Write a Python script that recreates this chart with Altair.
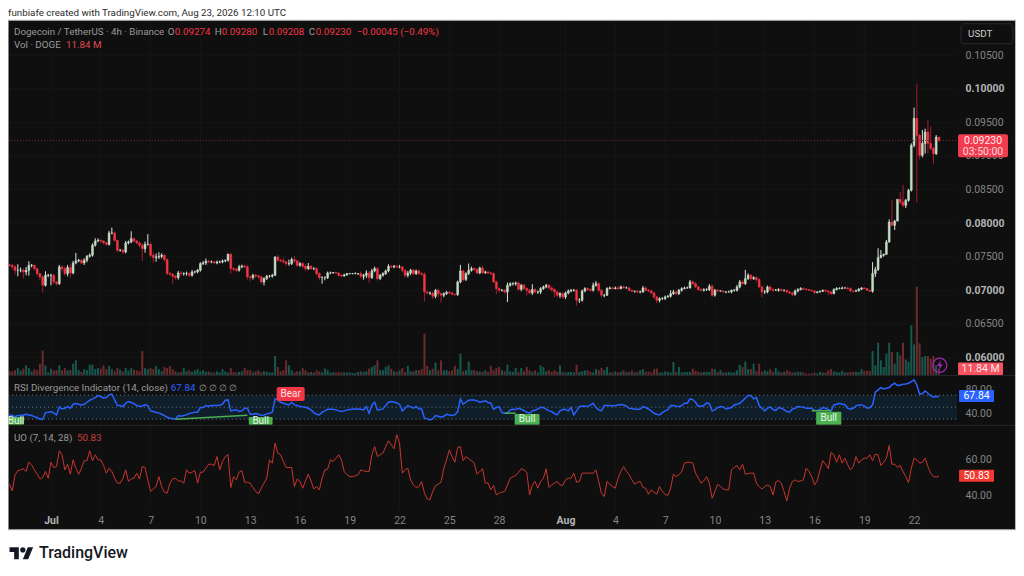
import altair as alt
import pandas as pd

# ---- values (price in 1e-4 USDT) ----
closes_e4 = [
737.2,734.8,729.8,729.8,729.8,727.3,729.8,737.2,737.2,732.3,
724.8,719.9,707.5,722.4,722.4,722.4,712.4,709.9,734.8,732.3,
724.8,733.8,725.8,740.7,743.7,744.7,740.7,744.7,750.6,752.1,
767,773.4,774.4,773.4,770.5,768.5,785.4,785.4,774.4,759.6,
759.6,757.1,770.5,772,776.9,773.4,770.5,767,762,768.5,
768.5,752.1,748.6,749.6,750.6,752.1,745.7,724.8,723.8,720.9,
718.9,725.8,724.8,724.8,724.8,722.4,727.3,727.3,729.8,739.7,
740.7,743.2,742.2,742.2,740.7,742.2,742.2,743.7,744.7,753.6,
732.3,731.3,729.8,734.8,736.2,734.8,719.9,718.9,722.4,721.4,
719.9,712.4,717.4,720.9,720.9,722.4,749.6,744.7,743.7,742.2,
739.7,739.7,745.7,743.7,737.2,
739.7,735.7,732.2,735.7,732.2,732.2,724.8,718.8,718.8,718.8,
725.8,725.8,726.3,725.8,722.3,721.3,722.8,724.8,724.8,724.8,
724.8,724.8,720.8,722.3,725.8,718.8,728.8,732.2,717.4,722.3,
724.8,728.8,735.7,734.7,735.7,734.7,734.7,729.8,722.3,725.8,
729.8,724.8,728.8,724.8,723.8,697.5,696,696,691.1,700,
695,692.6,695,697,696,694,693.6,712.4,728.8,715.9,
724.8,729.8,732.2,730.8,725.8,733.2,726.3,727.3,725.8,724.8,
712.4,702.5,700,700,697.5,707.4,709.9,709.9,710.9,701.5,
707.4,702.5,700,696,701,697.5,697.5,702.5,705,707.4,
703.5,701,697.5,692.6,695,690.1,696,699,700,700,
685.1,685.1,699,702.5,701,700,707.4,709.9,700,
692.6,692.6,702.5,703.5,702.5,703.5,702.5,705,703.5,703.5,
700,698.5,698.5,697.5,697.5,703.5,700,699,696,690.1,
685.1,687.6,687.6,690.1,691.1,695,697.5,695,700,702.5,
703.5,703.5,712.4,709.9,705,701,700,701,701,706,
692.6,700,699,699,697.5,697.5,697.5,700,700,705,
712.4,709.9,717.4,722.3,717.4,718.8,715.9,705,697.5,697.5,
705,701,700,700,701,700,700,697.5,696,694,
699,701,702.5,701.5,701,700,699,696.5,697.5,698.5,
700,699,697.5,695,701,702.5,702.5,703.5,703.5,702.5,
699,698.5,699,701.5,703.5,702.5,700,698.5,
724.8,730.8,748.6,752,753.6,771.9,801.6,796.7,803,835.4,
831,826.5,834,849,915.8,956,930.6,900.9,918.6,935.6,
918.9,911.3,903.4,928,923,
]
upper_wick_e4 = [
1,2,3,9,4,3,5,6,2,1, 1,1,2,6,2,2,2,1,3,2, 3,4,5,3,12,2,2,3,2,3, 3,4,3,2,1,2,3,8,2,1,
2,2,3,2,11,2,2,2,3,4, 15,3,4,5,6,3,2,2,3,2, 2,3,3,2,3,2,3,2,2,2, 3,4,2,2,2,2,2,2,1,1,
2,2,2,3,2,2,3,2,2,2, 2,2,2,2,2,2,1,3,2,5, 2,6,3,5,2,
2,2,3,5,2,2,2,2,2,2, 2,2,1,1,1,2,2,1,1,1, 2,1,3,2,4,3,3,3,2,2, 2,2,3,2,2,2,3,2,2,3,
2,2,2,2,2,3,2,2,2,2, 2,2,2,2,2,2,1,2,9,2, 2,10,3,2,2,2,3,2,2,2, 2,2,2,2,2,4,2,2,2,2,
2,2,2,2,8,2,2,2,2,2, 2,2,2,2,2,2,2,2,2,2, 2,3,2,2,2,2,4,4,2,
2,2,2,2,2,2,3,2,2,2, 2,1,1,2,2,3,2,2,2,2, 2,2,2,2,2,5,3,2,2,2, 2,2,3,2,2,2,2,2,2,3,
3,2,2,1,1,1,2,1,2,3, 3,2,13,3,2,2,2,2,2,3, 2,2,2,2,2,2,1,1,2,2, 2,2,2,2,2,1,1,1,1,1,
1,1,1,1,2,2,2,2,1,2, 2,1,2,2,1,1,1,1,
17,4,14,8,1,3,4,33,2,0, 11,26,2,2,3,16,52,2,20,5, 18,25,2,3,0,
]
lower_wick_e4 = [
2,4,6,9,3,10,5,8,3,3, 3,5,11,2,3,15,3,3,2,4, 3,4,7,2,2,2,2,3,3,2, 2,2,2,3,2,2,2,2,2,3,
2,3,2,2,2,2,2,3,18,6, 2,3,7,6,3,3,3,2,2,11, 3,3,3,3,3,3,2,2,2,2, 2,3,2,2,2,2,2,2,2,2,
8,3,3,2,2,2,4,5,3,3, 3,3,5,2,2,2,1,2,2,2, 3,3,2,3,2,
2,3,4,2,2,2,3,4,9,4, 2,2,1,1,2,2,1,1,1,1, 1,2,3,5,4,8,2,2,3,2, 2,2,2,2,2,2,2,3,4,3,
3,2,2,2,2,14,2,3,4,3, 5,11,3,2,2,2,2,2,2,3, 2,2,2,2,2,2,2,2,2,2, 2,8,3,2,3,15,2,3,3,2,
3,2,8,2,3,2,3,3,2,2, 3,3,8,3,4,3,3,2,2,2, 8,4,2,2,2,2,2,2,3,
3,3,1,1,1,1,2,1,1,1, 2,1,2,2,2,1,1,2,2,3, 4,3,2,2,1,2,2,2,2,2, 1,1,1,2,2,2,2,2,2,2,
3,2,2,1,1,2,1,2,2,2, 2,2,2,2,3,2,3,2,8,3, 2,2,2,1,2,2,2,2,2,3, 2,2,1,1,1,1,1,2,1,1,
1,2,5,2,1,1,1,1,1,2, 2,2,1,1,1,1,1,1,
2,5,2,1,2,1,1,1,7,0, 3,3,4,2,2,3,100,6,3,15, 15,3,15,2,2,
]
volume_m = [
7,7,9,13,8.5,12,18,13,7,11, 9,21,45,18,5,12,9,9,18,9, 13,9,9,21,27,9,6,11,9,19,
19,11,13,12,18,11,17,11,7,13, 10,7,13,8.5,13,10,8.5,7,44,13, 11,13,11,17,11,7,15,13,17,11,
7,5,6,13,7,9,6,9,11,7, 9,6,7,5,5,7,5,11,7,5, 13,6,5,6,7,13,9,9,5,7,
9,5,7,6,5,5,35,15,7,9, 27,18,9,5,7,
7,13,9,5,6,5,9,7,5,12, 9,5,5,5,6,5,5,5,5,4, 4,6,7,6,7,12,15,18,27,9,
9,15,18,12,7,6,9,13,6,17, 7,7,9,9,11,76,17,9,12,23, 9,27,9,9,7,9,17,11,39,7,
9,25,9,9,7,7,6,9,6,17, 9,13,15,9,7,19,7,6,13,6, 13,7,15,9,6,9,5,18,15,7,
9,6,9,6,18,6,5,6,6,5, 19,6,7,9,9,6,5,11,9,
13,9,15,5,5,7,5,6,9,6, 6,9,5,6,9,11,6,7,5,11, 12,5,5,7,6,5,24,6,15,5,
6,6,6,12,8,6,5,6,6,6, 12,11,6,9,5,5,6,5,5,9, 19,15,25,11,11,21,7,21,6,9,
7,11,6,13,7,5,6,9,7,5, 5,6,6,5,3,3,3,5,3,6, 5,5,9,11,7,6,5,8,5,5, 6,6,6,6,11,8,8,8,
44,18,59,27,15,39,59,42,21,42, 36,59,29,25,91,56,161,58,33,35, 35,30,35,18,11.84,
]
rsi = [
37.1,36,34.3,36,36,37.1,38.2,37.1,36,34.3, 32.7,29.9,29.9,41,41.6,42.7,39.9,37.1,50.5,47.1,
48.2,51,48.2,54.9,56,54.9,53.8,54.9,58.2,61.6, 63.8,66,69.4,67.7,64.9,66,70.5,71.6,62.1,52.7,
52.7,51,56.6,59.4,57.7,56,52.7,51.6,52.1,53.8, 52.7,43.8,42.7,41,40.5,38.2,36,33.2,31.6,31,
29.9,36,34.9,36,37.1,39.4,40.5,41.6,41.6,49.4, 49.4,52.7,51.6,52.7,52.7,52.7,53.2,54.9,61.6,62.1,
43.8,44.9,45.5,42.7,43.8,48.2,48.2,38.2,38.2,39.4, 38.2,36,37.1,38.8,39.9,41.6,63.8,62.1,58.2,56.6,
54.9,53.8,58.2,53.8,52.7,51,50.5,49.9,48.2,45.5, 41,38.2,37.1,41.6,43.8,46.6,46.6,46.6,45.5,43.8,
42.7,43.8,45.5,46,46.6,47.1,47.1,46.6,45.5,51, 39.9,53.8,58.2,45.5,46,47.1,52.7,58.2,59.4,58.8,
57.1,54.9,43.8,48.2,52.7,50.5,48.2,51,47.1,47.1, 31.6,30.5,28.8,30.5,36,34.9,33.2,34.9,38.2,37.1,
36,37.1,42.7,63.8,54.9,58.2,61.6,62.1,62.1,60.5, 58.2,59.4,60.5,57.7,56.6,46.6,49.4,51,41,39.9,
39.9,45.5,46.6,46,48.2,46.6,44.4,41.6,39.9,43.8, 44.9,47.1,49.4,49.4,46.6,43.8,42.7,39.4,37.1,43.8,
46,46.6,43.8,49.4,37.1,43.8,51,52.1,51.6,51, 53.8,56.6,49.4,45.5,43.8,52.7,52.7,52.7,52.1,52.7,
53.8,54.4,53.8,51.6,48.2,47.7,46.6,46.6,46.6,51, 49.4,46.6,43.8,39.9,38.2,37.1,41,43.8,46,52.7,
52.7,51.6,51,
52.7,56.6,56.6,63.8,62.7,58.2,51.6,51.6,52.7,57.1, 56,43.8,45.5,49.4,51,50.5,47.1,48.2,49.4,53.8,
54.9,56.6,60.5,64.9,69.4,69.4,63.8,66,52.7,48.2, 43.8,48.2,50.5,46,44.4,49.4,48.2,46,42.7,41.6,
47.1,48.2,51,50.5,49.9,48.2,48.2,48.2,44.4,44.4, 46,49.4,48.2,46,43.8,53.8,54.9,56.6,54.9,54.4,
48.2,46.6,48.2,52.1,53.8,53.8,52.1,48.2,49.4,53.8, 74.9,78.8,82.7,80.5,81.6,82.7,87.1,89.9,86,87.1,
88.2,88.8,89.9,92.7,95.5,87.1,71.6,72.7,77.1,73.2, 69.4,67.1,67.7,67.84,
]
uo = [
46.2,42.5,51.4,53.6,54.1,54.7,53.2,58.3,56.9,54.1, 51.7,49.1,49.9,53.2,49.5,58.3,55.4,55.9,64.6,62.4,
54.1,57.2,51.7,59.6,55,51.7,55,59.1,59.1,64.6, 59.1,62.4,59.6,59.6,56.5,52.3,55,53.2,49.5,46.8,
46.8,49.5,54.1,47.7,49.1,49.5,52.3,49.1,55.9,55.4, 48.6,42.2,43.6,44.9,50.4,44.9,41.8,41.3,46.8,49.1,
49.5,48,48,46.8,54.1,52.3,52.8,53.7,46.8,52.8, 52.8,55,57.2,57.2,56.5,61.4,54.1,58.7,61.4,62.4,
44.4,50.4,48.6,52.8,53.6,47.3,47.3,46.8,44.4,42.2, 40.9,44,46.8,49.5,59.6,57.8,68.8,63.3,62.4,58.7,
55.4,55.4,55.4,44.9,49.1,47.7,44,48,51.7,48, 43.6,44.9,43.1,49.5,54.1,54.5,59.6,58.7,60.5,62.4,
59.6,53.2,51.4,50.4,50.4,50.8,51.4,54.1,53.6,53.2, 53.2,62.4,66.9,61.4,62.4,63.3,66.9,70.1,67.9,65.7,
73.4,68.8,52.3,54.1,55,48.6,45.8,44.4,44.9,47.7, 41.3,38.1,37.6,42.2,45.5,46.2,47.3,55,59.6,65.1,
61.4,58.3,66.4,66.9,59.1,61.4,60.2,59.1,57.8,51.7, 53.2,54.7,46.8,46.8,43.1,45.5,40.3,41.3,41.8,42.2,
45.8,49.5,50.4,51,52.8,54.7,54.1,52.8,40.3,45.8, 47.7,44,47.7,49.5,54.7,44.4,45.8,46.8,47.7,45.8,
45.5,48.6,49.5,49.5,52.3,47.3,47.7,52.3,52.3,52.3, 52.3,52.3,54.1,47.7,41.3,39.4,47.7,46.2,44.9,44,
49.5,53.2,55.9,53.2,51.4,48.6,46.2,47.3,47.7,44.4, 44,40.7,43.1,41.8,40.7,44.9,42.2,40.7,40,44,
51.7,50.4,51.4,
53.2,57.8,58.3,58.3,57.8,52.3,49.5,46.8,48,50.4, 46.8,38.5,42.2,46.2,44.9,43.6,43.1,43.1,54.1,55.4,
56.5,54.1,57.2,51.7,52.1,52.3,52.3,46.8,44.9,43.5, 44.9,45.8,44.9,40.3,47.3,48.4,46.8,42.2,37,44,
47.7,48.6,47.7,48,48.6,55,53.2,50.4,45.8,48, 54.1,59.1,57.2,54.7,63.6,62.4,58.3,62.4,57.8,60.5,
56.9,54.1,55.9,61.4,57.8,59.6,60.5,60.5,62.4,59.1, 62.7,62.4,56.5,58.3,60.5,67.5,57.2,57.2,55.4,56.5,
53.2,50.4,47.1,55,60.5,59.6,57.8,58.3,60.5,55.9, 52.3,50.4,50.1,50.83,
]
first_open_e4 = 738
price_ticks = [0.105, 0.10, 0.095, 0.09, 0.085, 0.08, 0.075, 0.07, 0.065, 0.06]
rsi_levels = [70, 50, 30]
bull_boxes = [(-0.5, 5.2, 33.8), (86.5, 95.1, 33.8), (182.6, 191.6, 38.8), (291.6, 300.7, 42.2)]
bear_box = (96.6, 106.7, 83.8, 60.5)
div_lines = [(60, 29.9, 86, 36.5), (179, 40, 183, 40), (290, 44, 297, 44)]

for name, arr in dict(u=upper_wick_e4, l=lower_wick_e4, v=volume_m, r=rsi, o=uo).items():
    assert len(arr) == len(closes_e4), (name, len(arr), len(closes_e4))

BAR = 4 * 3600 * 1000
T0 = int(pd.Timestamp("2026-06-28T12:00:00Z").timestamp() * 1000)
def at(i):
    return T0 + i * BAR

opens = [first_open_e4] + closes_e4[:-1]
rows = []
for i, c in enumerate(closes_e4):
    o = opens[i]
    hi, lo = max(o, c) + upper_wick_e4[i], min(o, c) - lower_wick_e4[i]
    rows.append(dict(t=at(i), o=o / 1e4, c=c / 1e4, h=hi / 1e4, l=lo / 1e4,
                     v=volume_m[i], r=rsi[i], u=uo[i], d="up" if c >= o else "down"))
df = pd.DataFrame(rows)
one = pd.DataFrame({"a": [0]})

# ---- scales ----
PANE_R = 950
xs = alt.Scale(type="utc", domain=[at(-0.542), at(342.54)], range=[0, PANE_R], padding=0)
ps = alt.Scale(domain=[0.06, 0.105], range=[349.5, 47.0], nice=False, zero=False)
vs = alt.Scale(domain=[0, 100], range=[367.3, 312.3], nice=False)
rs = alt.Scale(domain=[40, 80], range=[405.3, 381.3], nice=False, zero=False)
us = alt.Scale(domain=[40, 60], range=[487.7, 451.3], nice=False, zero=False)
X = alt.X("t:T", scale=xs, axis=None)

GRAY, BRIGHT = "#858585", "#b4b4b4"
RED, BLUE = "#f23645", "#2962ff"
FONT = "Roboto"
dirc = lambda a, b: alt.Scale(domain=["up", "down"], range=[a, b])

def yaxis(vals, fmt, test=None):
    kw = {}
    if test:
        kw = dict(labelFontWeight={"condition": {"test": test, "value": "bold"}, "value": "normal"},
                  labelColor={"condition": {"test": test, "value": BRIGHT}, "value": GRAY})
    else:
        kw = dict(labelColor=GRAY)
    return alt.Axis(orient="right", offset=PANE_R - 1009, values=vals, format=fmt, title=None, domain=False,
                    ticks=False, grid=False, labelPadding=8, labelFont=FONT, labelFontSize=10.5,
                    labelOverlap=False, labelFlush=False, labelBound=False, **kw)

def txt(x, y, s, color=GRAY, size=10, align="left", weight="normal"):
    return alt.Chart(one).mark_text(text=s, color=color, fontSize=size, align=align, baseline="middle",
                                    font=FONT, fontWeight=weight).encode(x=alt.value(x), y=alt.value(y))

def box(x0, x1, y0, y1, fill, radius=0, stroke=None):
    kw = dict(fill=fill)
    if radius:
        kw["cornerRadius"] = radius
    if stroke:
        kw["stroke"] = stroke
    return alt.Chart(one).mark_rect(**kw).encode(x=alt.value(x0), x2=alt.value(x1), y=alt.value(y0), y2=alt.value(y1))

def hrule(y, color, x0=0, x1=1009, w=1):
    return alt.Chart(one).mark_rule(color=color, strokeWidth=w).encode(x=alt.value(x0), x2=alt.value(x1), y=alt.value(y))

# x ticks
day_ticks = [at(15 + 18 * k) for k in range(10)] + [int(pd.Timestamp(f"2026-08-{d:02d}T00:00:00Z").timestamp() * 1000)
                                                      for d in (1, 4, 7, 10, 13, 16, 19, 22)]
x_axis = alt.Axis(orient="bottom", offset=502 - 556, values=day_ticks, title=None, domain=False, ticks=False, grid=False,
                  labelExpr="utcdate(datum.value)==1 ? utcFormat(datum.value,'%b') : ''+utcdate(datum.value)",
                  labelFont=FONT, labelFontSize=10.5, labelPadding=6, labelOverlap=False, labelAngle=0,
                  labelFlush=False, labelBound=False,
                  labelFontWeight={"condition": {"test": "utcdate(datum.value)==1", "value": "bold"}, "value": "normal"},
                  labelColor={"condition": {"test": "utcdate(datum.value)==1", "value": BRIGHT}, "value": GRAY})
tick_df = pd.DataFrame({"t": day_ticks})
v_grid = alt.Chart(tick_df).mark_rule(color="#161616").encode(
    x=alt.X("t:T", scale=xs, axis=x_axis), y=alt.value(13), y2=alt.value(502))

price_df = pd.DataFrame({"p": price_ticks})
p_grid = alt.Chart(price_df).mark_rule(color="#161616").encode(
    y=alt.Y("p:Q", scale=ps, axis=yaxis(price_ticks, ".5f", "indexof([0.1,0.08,0.07,0.06],datum.value)>=0")),
    x=alt.value(0), x2=alt.value(PANE_R))

vol = alt.Chart(df).mark_bar(width=2).encode(
    x=X, y=alt.Y("v:Q", scale=vs, axis=None),
    color=alt.Color("d:N", scale=dirc("#17594f", "#6b2c2e"), legend=None))
wick = alt.Chart(df).mark_rule(strokeWidth=1).encode(
    x=X, y=alt.Y("l:Q", scale=ps, axis=None), y2="h:Q",
    color=alt.Color("d:N", scale=dirc("#e2e2e2", "#a81c2c"), legend=None))
body = alt.Chart(df).mark_bar(width=1.8, strokeWidth=0.6).encode(
    x=X, y=alt.Y("o:Q", scale=ps, axis=None), y2="c:Q",
    color=alt.Color("d:N", scale=dirc("#c4dcc6", RED), legend=None),
    stroke=alt.Stroke("d:N", scale=dirc("#c4dcc6", RED), legend=None))
last_line = alt.Chart(pd.DataFrame({"p": [0.0923]})).mark_rule(color="#8a2530", strokeDash=[1, 2]).encode(
    y=alt.Y("p:Q", scale=ps, axis=None), x=alt.value(0), x2=alt.value(PANE_R))

band = alt.Chart(pd.DataFrame({"hi": [70], "lo": [30]})).mark_rect(fill="#0f1e29").encode(
    y=alt.Y("hi:Q", scale=rs, axis=yaxis([80, 40], ".2f")), y2="lo:Q", x=alt.value(0), x2=alt.value(PANE_R))
levels = alt.Chart(pd.DataFrame({"r": rsi_levels})).mark_rule(color="#6f7a84", strokeDash=[1, 3]).encode(
    y=alt.Y("r:Q", scale=rs, axis=None), x=alt.value(0), x2=alt.value(PANE_R))
rsi_line = alt.Chart(df).mark_line(color=BLUE, strokeWidth=1.5).encode(x=X, y=alt.Y("r:Q", scale=rs, axis=None))

div_df = pd.DataFrame([dict(k=n, t=at(a), r=b) for n, d in enumerate(div_lines)
                       for a, b in ((d[0], d[1]), (d[2], d[3]))])
div = alt.Chart(div_df).mark_line(color="#4caf50", strokeWidth=1.5).encode(
    x=X, y=alt.Y("r:Q", scale=rs, axis=None), detail="k:N")
bull_df = pd.DataFrame([dict(t=at(a), t2=at(b), top=c, bot=20.5, mid=at((a + b) / 2), ym=(c + 20.5) / 2, s="Bull")
                        for a, b, c in bull_boxes])
bull = alt.Chart(bull_df).mark_rect(fill="#4caf50", cornerRadius=1).encode(
    x=X, x2="t2:T", y=alt.Y("top:Q", scale=rs, axis=None), y2="bot:Q")
bull_t = alt.Chart(bull_df).mark_text(color="#e8f5e9", fontSize=10, font=FONT).encode(
    x=alt.X("mid:T", scale=xs, axis=None), y=alt.Y("ym:Q", scale=rs, axis=None), text="s:N")
bear_df = pd.DataFrame([dict(t=at(bear_box[0]), t2=at(bear_box[1]), top=bear_box[2], bot=bear_box[3],
                             mid=at((bear_box[0] + bear_box[1]) / 2), ym=(bear_box[2] + bear_box[3]) / 2, s="Bear")])
bear = alt.Chart(bear_df).mark_rect(fill=RED, cornerRadius=2).encode(
    x=X, x2="t2:T", y=alt.Y("top:Q", scale=rs, axis=None), y2="bot:Q")
bear_t = alt.Chart(bear_df).mark_text(color="#ffe3e6", fontSize=10, font=FONT).encode(
    x=alt.X("mid:T", scale=xs, axis=None), y=alt.Y("ym:Q", scale=rs, axis=None), text="s:N")

uo_line = alt.Chart(df).mark_line(color="#c9352f", strokeWidth=1).encode(
    x=X, y=alt.Y("u:Q", scale=us, axis=yaxis([60, 40], ".2f")))

LOGO = ("M-0.222 0.5L-0.611 0.5L-0.611 -0.111L-1 -0.111L-1 -0.5L-0.222 -0.5Z"
        "M0.556 0.5L0.111 0.5L0.528 -0.5L0.972 -0.5Z"
        "M-0.111 -0.278A0.222 0.222 0 1 0 0.333 -0.278A0.222 0.222 0 1 0 -0.111 -0.278Z")
BOLT = "M0.25 -1L-0.6 0.15L-0.05 0.15L-0.25 1L0.6 -0.2L0.05 -0.2Z"
def symbol(x, y, path, size, color):
    return alt.Chart(one).mark_point(shape=path, size=size, filled=True, fill=color, stroke=None, opacity=1).encode(
        x=alt.value(x), y=alt.value(y))

marks = [
    v_grid, p_grid, vol, wick, body, last_line,
    band, levels, rsi_line, div, bull, bull_t, bear, bear_t, uo_line,
    hrule(367.5, "#26262b"), hrule(417.5, "#26262b"),
    # outer white frame and border
    box(0, 1009, -1, 12, "#ffffff"), box(0, 1009, 522, 558, "#ffffff"),
    hrule(12, "#b9b9b9"), hrule(522, "#b9b9b9"),
    alt.Chart(one).mark_rule(color="#b9b9b9").encode(x=alt.value(0.2), y=alt.value(12), y2=alt.value(522)),
    alt.Chart(one).mark_rule(color="#b9b9b9").encode(x=alt.value(1008.5), y=alt.value(12), y2=alt.value(522)),
    # caption and logo
    txt(0, 4.5, "funbiafe created with TradingView.com, Aug 23, 2026 12:10 UTC", "#2b2b2b", 9.8),
    symbol(13.5, 545.5 - 0, LOGO, 576, "#131722"),
    txt(31, 545.5, "TradingView", "#131722", 16, weight=500),
    # legends
    txt(6, 24, "Dogecoin / TetherUS · 4h · Binance", "#9a9a9a", 9.8),
    txt(160, 24, "O", "#9a9a9a", 9.8), txt(167, 24, "0.09274", RED, 9.8),
    txt(207, 24, "H", "#9a9a9a", 9.8), txt(214, 24, "0.09280", RED, 9.8),
    txt(255, 24, "L", "#9a9a9a", 9.8), txt(261, 24, "0.09208", RED, 9.8),
    txt(301, 24, "C", "#9a9a9a", 9.8), txt(308, 24, "0.09230", RED, 9.8),
    txt(349, 24, "−0.00045 (−0.49%)", RED, 9.8),
    txt(6, 37, "Vol · DOGE", "#9a9a9a", 9.8), txt(58, 37, "11.84 M", "#e0494f", 9.8),
    txt(6, 380, "RSI Divergence Indicator (14, close)", "#9a9a9a", 9.8),
    txt(163, 380, "67.84", BLUE, 9.8), txt(191, 380, "∅  ∅  ∅  ∅", "#9a9a9a", 9),
    txt(6, 430, "UO (7, 14, 28)", "#9a9a9a", 9.8), txt(69, 430, "50.83", "#d03a34", 9.8),
    # USDT button
    box(954, 1006, 15.5, 35.5, "#0f0f0f", 3, "#2a2a2a"),
    txt(961, 25.5, "USDT", "#cfcfcf", 9.8),
    # last value tags
    box(951, 1001, 126, 149, "#f23c50", 2),
    txt(976, 132.5, "0.09230", "#ffe8ea", 10.5, "center"),
    txt(976, 143.5, "03:50:00", "#ffd7db", 10.5, "center"),
    box(951, 996, 354.7, 367, "#f7525f", 1),
    txt(973.5, 361, "11.84 M", "#ffe8ea", 10.5, "center"),
    box(952, 987, 382, 394, BLUE, 1),
    txt(969.5, 388.3, "67.84", "#ffffff", 10.5, "center"),
    box(952, 987, 462, 474, "#f23a30", 1),
    txt(969.5, 468.3, "50.83", "#ffffff", 10.5, "center"),
    # lightning badge
    alt.Chart(one).mark_point(shape="circle", size=200, color="#9c27b0", strokeWidth=1.3, filled=False, opacity=1).encode(
        x=alt.value(932.7), y=alt.value(357.3)),
    symbol(932.7, 357.3, BOLT, 110, "#9c27b0"),
]

chart = (alt.layer(*marks)
         .resolve_scale(y="independent", color="independent", stroke="independent")
         .resolve_axis(x="independent")
         .properties(width=1009, height=556, padding=0,
                     autosize=alt.AutoSizeParams(type="none"), background="#ffffff")
         .configure_view(fill="#0f0f0f", stroke=None))
chart.save("out.html", embed_options={"renderer": "svg", "actions": False})
